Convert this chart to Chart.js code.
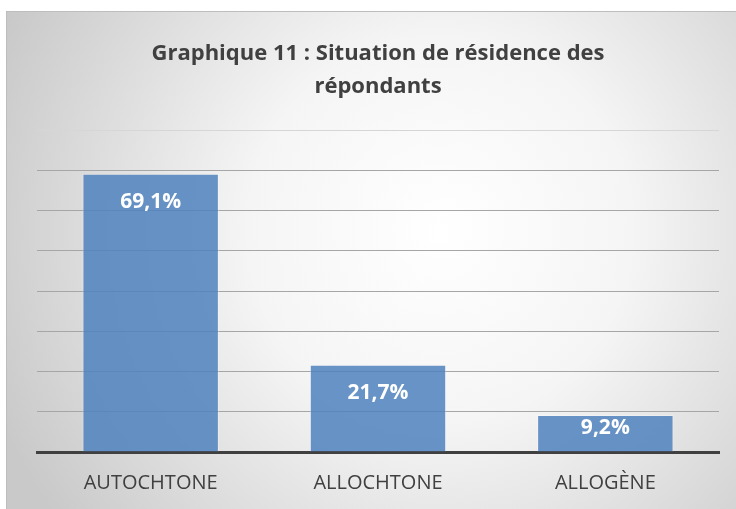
<!DOCTYPE html>
<html>
<head>
<meta charset="utf-8">
<script src="https://cdn.jsdelivr.net/npm/chart.js@4"></script>
<style>
html,body{margin:0;padding:0;background:#fff;}
#wrap{width:736px;height:509px;}
</style>
</head>
<body>
<div id="wrap"><canvas id="c" width="736" height="509"></canvas></div>
<script>
const titleLines = ["Graphique 11 : Situation de résidence des", "répondants"];
const categories = ["AUTOCHTONE", "ALLOCHTONE", "ALLOGÈNE"];
const values = [69.1, 21.7, 9.2];
const valueLabels = ["69,1%", "21,7%", "9,2%"];

const FONT = "'Open Sans', Lato, sans-serif";

const bgPlugin = {
  id: 'bg',
  beforeDraw(chart) {
    const ctx = chart.ctx;
    ctx.save();
    ctx.fillStyle = '#ffffff';
    ctx.fillRect(0, 0, chart.width, chart.height);
    const x0 = 6, y0 = 11, w = chart.width - x0, h = chart.height - y0;
    const g = ctx.createRadialGradient(440, 230, 0, 440, 230, 480);
    g.addColorStop(0, '#ffffff');
    g.addColorStop(0.4, '#f5f5f5');
    g.addColorStop(1, '#c9c9c9');
    ctx.fillStyle = g;
    ctx.fillRect(x0, y0, w, h);
    ctx.strokeStyle = '#bdbdbd';
    ctx.lineWidth = 1;
    ctx.strokeRect(x0 + 0.5, y0 + 0.5, w, h);
    ctx.restore();
  }
};

const labelPlugin = {
  id: 'valLabels',
  afterDatasetsDraw(chart) {
    const ctx = chart.ctx;
    const meta = chart.getDatasetMeta(0);
    ctx.save();
    ctx.fillStyle = '#ffffff';
    ctx.font = "bold 21px " + FONT;
    ctx.textAlign = 'center';
    ctx.textBaseline = 'middle';
    meta.data.forEach((bar, i) => {
      const h = bar.base - bar.y;
      const off = Math.min(28, h / 2 - 5);
      ctx.fillText(valueLabels[i], bar.x, bar.y + off);
    });
    ctx.restore();
  }
};

new Chart(document.getElementById('c'), {
  type: 'bar',
  data: {
    labels: categories,
    datasets: [{
      data: values,
      backgroundColor: 'rgba(79,129,189,0.85)',
      borderColor: 'rgba(255,255,255,0.3)',
      borderWidth: 1,
      barPercentage: 0.6,
      categoryPercentage: 1.0
    }]
  },
  options: {
    responsive: false,
    animation: false,
    events: [],
    layout: { padding: { top: 20, left: 37, right: 17, bottom: 0 } },
    plugins: {
      legend: { display: false },
      tooltip: { enabled: false },
      title: {
        display: true,
        text: titleLines,
        color: '#404040',
        font: { family: FONT, size: 22, weight: 'bold', lineHeight: 1.5 },
        padding: { top: 17, bottom: 27 }
      }
    },
    scales: {
      x: {
        grid: { display: false, drawTicks: false },
        border: { display: true, color: '#404040', width: 3 },
        ticks: { color: '#404040', font: { family: FONT, size: 20 }, padding: 19 },
        afterFit(scale) { scale.height = 57; }
      },
      y: {
        min: 0, max: 80,
        ticks: { display: false, stepSize: 10 },
        grid: {
          drawTicks: false,
          color: (c) => c.tick && c.tick.value === 80 ? '#d6d6d6' : '#a6a6a6',
          lineWidth: 1
        },
        border: { display: false }
      }
    }
  },
  plugins: [bgPlugin, labelPlugin]
});
</script>
</body>
</html>
